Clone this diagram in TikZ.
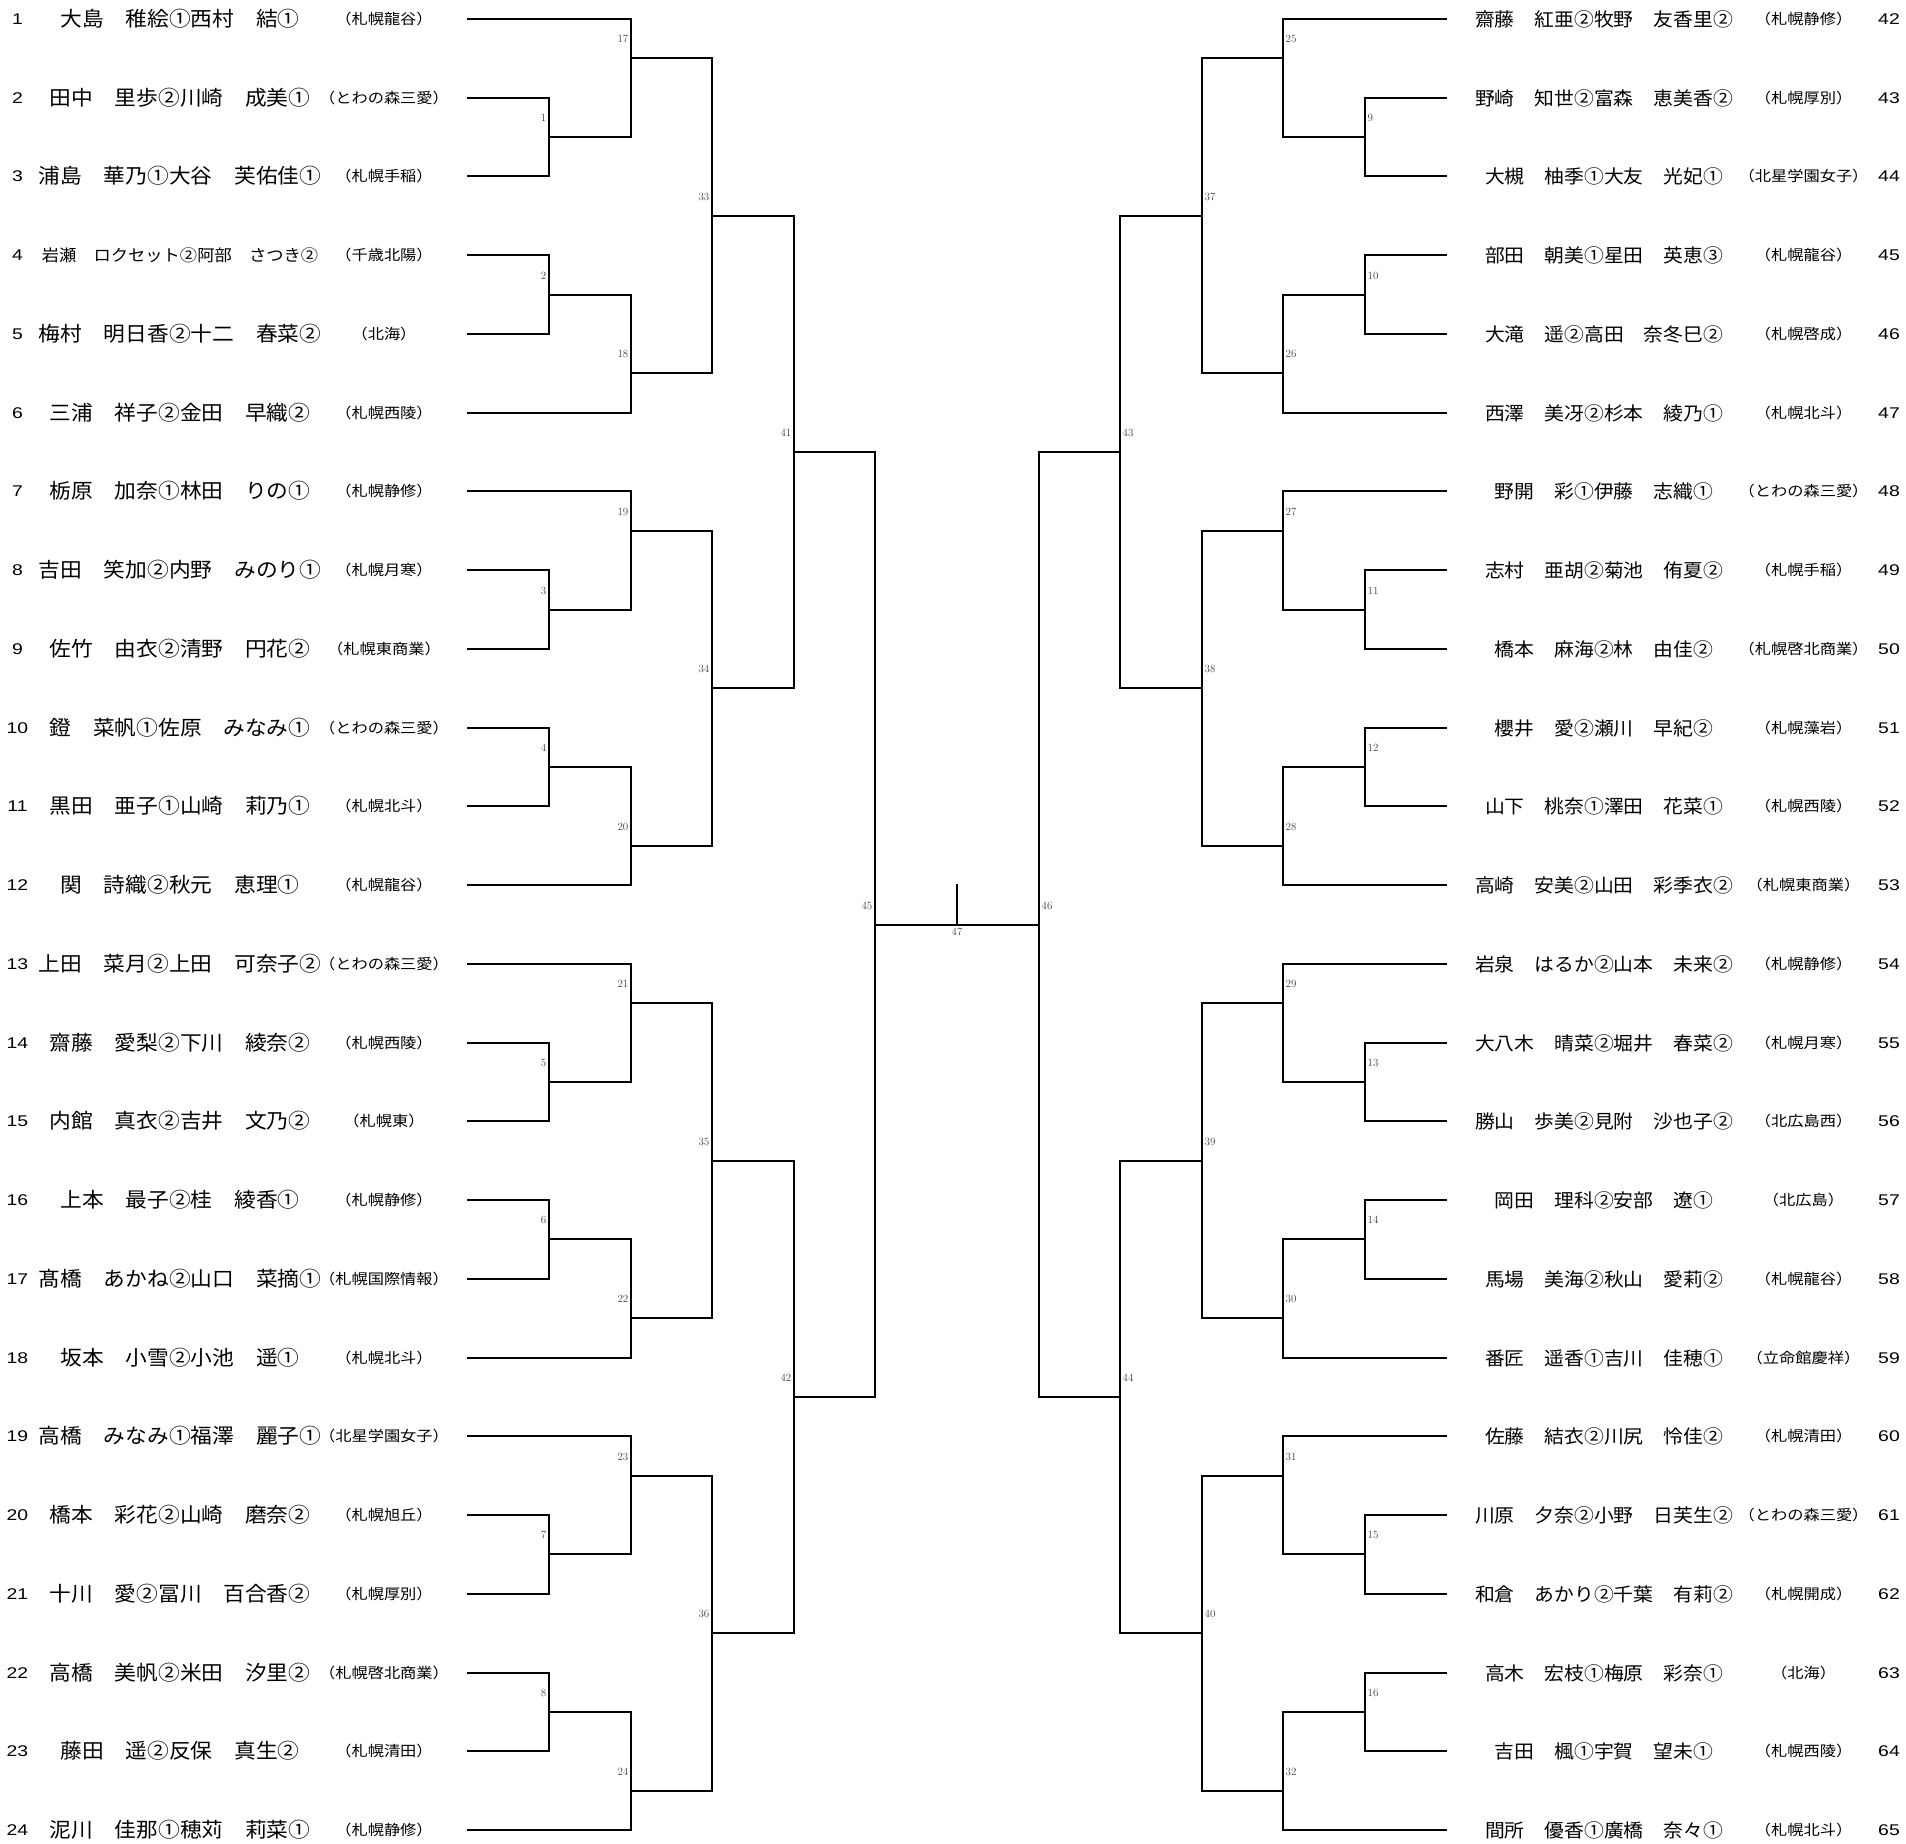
\documentclass[tikz,border=0pt]{standalone}
\usepackage{fontspec}
\usepackage{graphicx}
\newfontfamily\jpname[FakeStretch=1.06]{Noto Sans CJK JP}
\newfontfamily\jpschool[FakeStretch=1.12]{Noto Sans CJK JP}
\newfontfamily\numfont[FakeStretch=1.25]{Liberation Sans}
\newcommand\Yr[1]{round(19+(#1-1)*78.74)}
\newcommand\LM[7]{%
  \coordinate (M#1-t) at (#2,{\Yr{#3}});
  \coordinate (M#1-b) at (#2,{\Yr{#4}});
  \coordinate (M#1-o) at (#2,{\Yr{#5}});
  \draw[br] (#6) -- (M#1-t) -- (M#1-b) -- (#7);
  \node[mlab,anchor=east,xshift=-2.5pt,yshift=19.5pt] (N#1) at (M#1-o) {#1};
}
\newcommand\RM[7]{%
  \coordinate (M#1-t) at (#2,{\Yr{#3}});
  \coordinate (M#1-b) at (#2,{\Yr{#4}});
  \coordinate (M#1-o) at (#2,{\Yr{#5}});
  \draw[br] (#6) -- (M#1-t) -- (M#1-b) -- (#7);
  \node[mlab,anchor=west,xshift=2.5pt,yshift=19.5pt] (N#1) at (M#1-o) {#1};
}
\begin{document}
\begin{tikzpicture}[x=1pt,y=-1pt,
  br/.style={line width=2pt,line join=miter},
  mlab/.style={font=\fontsize{11}{11}\selectfont, text=black!75, inner sep=0pt},
  lnum/.style={font=\numfont\fontsize{15.5}{16}\selectfont, inner sep=0pt, anchor=center},
  school/.style={font=\jpschool\fontsize{14.5}{15}\selectfont, inner sep=0pt},
]
\useasboundingbox[fill=white] (0,0) rectangle (1906,1844);

% ---------------- left entries ----------------
\foreach \r/\fs/\nm/\sc in {
 1/20.5/{大島　稚絵①西村　結①}/{（札幌龍谷）},
 2/20.5/{田中　里歩②川崎　成美①}/{（とわの森三愛）},
 3/20.5/{浦島　華乃①大谷　芙佑佳①}/{（札幌手稲）},
 4/16.3/{岩瀬　ロクセット②阿部　さつき②}/{（千歳北陽）},
 5/20.5/{梅村　明日香②十二　春菜②}/{（北海）},
 6/20.5/{三浦　祥子②金田　早織②}/{（札幌西陵）},
 7/20.5/{栃原　加奈①林田　りの①}/{（札幌静修）},
 8/20.5/{吉田　笑加②内野　みのり①}/{（札幌月寒）},
 9/20.5/{佐竹　由衣②清野　円花②}/{（札幌東商業）},
 10/20.5/{鐙　菜帆①佐原　みなみ①}/{（とわの森三愛）},
 11/20.5/{黒田　亜子①山崎　莉乃①}/{（札幌北斗）},
 12/20.5/{関　詩織②秋元　恵理①}/{（札幌龍谷）},
 13/20.5/{上田　菜月②上田　可奈子②}/{（とわの森三愛）},
 14/20.5/{齋藤　愛梨②下川　綾奈②}/{（札幌西陵）},
 15/20.5/{内館　真衣②吉井　文乃②}/{（札幌東）},
 16/20.5/{上本　最子②桂　綾香①}/{（札幌静修）},
 17/20.5/{髙橋　あかね②山口　菜摘①}/{（札幌国際情報）},
 18/20.5/{坂本　小雪②小池　遥①}/{（札幌北斗）},
 19/20.5/{高橋　みなみ①福澤　麗子①}/{（北星学園女子）},
 20/20.5/{橋本　彩花②山崎　磨奈②}/{（札幌旭丘）},
 21/20.5/{十川　愛②冨川　百合香②}/{（札幌厚別）},
 22/20.5/{高橋　美帆②米田　汐里②}/{（札幌啓北商業）},
 23/20.5/{藤田　遥②反保　真生②}/{（札幌清田）},
 24/20.5/{泥川　佳那①穂苅　莉菜①}/{（札幌静修）}}{
  \coordinate (EL\r) at (467,{\Yr{\r}});
  \node[lnum] (NL\r) at (17.5,{\Yr{\r}}) {\r};
  \node[font=\jpname\fontsize{\fs}{\fs}\selectfont, inner sep=0pt] (NML\r) at (180,{\Yr{\r}}) {\nm};
  \node[school] (SCL\r) at (384,{\Yr{\r}}) {\sc};
}

% ---------------- right entries ----------------
\foreach \r/\n/\nm/\sc in {
 1/42/{齋藤　紅亜②牧野　友香里②}/{（札幌静修）},
 2/43/{野崎　知世②富森　恵美香②}/{（札幌厚別）},
 3/44/{大槻　柚季①大友　光妃①}/{（北星学園女子）},
 4/45/{部田　朝美①星田　英恵③}/{（札幌龍谷）},
 5/46/{大滝　遥②高田　奈冬巳②}/{（札幌啓成）},
 6/47/{西澤　美冴②杉本　綾乃①}/{（札幌北斗）},
 7/48/{野開　彩①伊藤　志織①}/{（とわの森三愛）},
 8/49/{志村　亜胡②菊池　侑夏②}/{（札幌手稲）},
 9/50/{橋本　麻海②林　由佳②}/{（札幌啓北商業）},
 10/51/{櫻井　愛②瀬川　早紀②}/{（札幌藻岩）},
 11/52/{山下　桃奈①澤田　花菜①}/{（札幌西陵）},
 12/53/{高崎　安美②山田　彩季衣②}/{（札幌東商業）},
 13/54/{岩泉　はるか②山本　未来②}/{（札幌静修）},
 14/55/{大八木　晴菜②堀井　春菜②}/{（札幌月寒）},
 15/56/{勝山　歩美②見附　沙也子②}/{（北広島西）},
 16/57/{岡田　理科②安部　遼①}/{（北広島）},
 17/58/{馬場　美海②秋山　愛莉②}/{（札幌龍谷）},
 18/59/{番匠　遥香①吉川　佳穂①}/{（立命館慶祥）},
 19/60/{佐藤　結衣②川尻　怜佳②}/{（札幌清田）},
 20/61/{川原　夕奈②小野　日芙生②}/{（とわの森三愛）},
 21/62/{和倉　あかり②千葉　有莉②}/{（札幌開成）},
 22/63/{高木　宏枝①梅原　彩奈①}/{（北海）},
 23/64/{吉田　楓①宇賀　望未①}/{（札幌西陵）},
 24/65/{間所　優香①廣橋　奈々①}/{（札幌北斗）}}{
  \coordinate (ER\r) at (1447,{\Yr{\r}});
  \node[lnum] (NR\r) at (1889,{\Yr{\r}}) {\n};
  \node[font=\jpname\fontsize{18.7}{19}\selectfont, inner sep=0pt] (NMR\r) at (1604,{\Yr{\r}}) {\nm};
  \node[school] (SCR\r) at (1803.5,{\Yr{\r}}) {\sc};
}

% ---------------- left bracket ----------------
\foreach \g in {0,1,2,3}{
  \pgfmathtruncatemacro\ra{6*\g+1}
  \pgfmathtruncatemacro\rb{6*\g+2}
  \pgfmathtruncatemacro\rc{6*\g+3}
  \pgfmathtruncatemacro\rd{6*\g+4}
  \pgfmathtruncatemacro\re{6*\g+5}
  \pgfmathtruncatemacro\rf{6*\g+6}
  \pgfmathtruncatemacro\ma{2*\g+1}
  \pgfmathtruncatemacro\mb{2*\g+2}
  \pgfmathtruncatemacro\mc{17+2*\g}
  \pgfmathtruncatemacro\md{18+2*\g}
  \pgfmathtruncatemacro\me{33+\g}
  \LM{\ma}{549}{\rb}{\rc}{\rb+0.5}{EL\rb}{EL\rc}
  \LM{\mb}{549}{\rd}{\re}{\rd+0.5}{EL\rd}{EL\re}
  \LM{\mc}{631}{\ra}{\rb+0.5}{\ra+0.5}{EL\ra}{M\ma-o}
  \LM{\md}{631}{\rd+0.5}{\rf}{\re+0.5}{M\mb-o}{EL\rf}
  \LM{\me}{712}{\ra+0.5}{\re+0.5}{\rc+0.5}{M\mc-o}{M\md-o}
}
\LM{41}{794}{3.5}{9.5}{6.5}{M33-o}{M34-o}
\LM{42}{794}{15.5}{21.5}{18.5}{M35-o}{M36-o}
\LM{45}{875}{6.5}{18.5}{12.5}{M41-o}{M42-o}

% ---------------- right bracket ----------------
\foreach \g in {0,1,2,3}{
  \pgfmathtruncatemacro\ra{6*\g+1}
  \pgfmathtruncatemacro\rb{6*\g+2}
  \pgfmathtruncatemacro\rc{6*\g+3}
  \pgfmathtruncatemacro\rd{6*\g+4}
  \pgfmathtruncatemacro\re{6*\g+5}
  \pgfmathtruncatemacro\rf{6*\g+6}
  \pgfmathtruncatemacro\ma{9+2*\g}
  \pgfmathtruncatemacro\mb{10+2*\g}
  \pgfmathtruncatemacro\mc{25+2*\g}
  \pgfmathtruncatemacro\md{26+2*\g}
  \pgfmathtruncatemacro\me{37+\g}
  \RM{\ma}{1365}{\rb}{\rc}{\rb+0.5}{ER\rb}{ER\rc}
  \RM{\mb}{1365}{\rd}{\re}{\rd+0.5}{ER\rd}{ER\re}
  \RM{\mc}{1283}{\ra}{\rb+0.5}{\ra+0.5}{ER\ra}{M\ma-o}
  \RM{\md}{1283}{\rd+0.5}{\rf}{\re+0.5}{M\mb-o}{ER\rf}
  \RM{\me}{1202}{\ra+0.5}{\re+0.5}{\rc+0.5}{M\mc-o}{M\md-o}
}
\RM{43}{1120}{3.5}{9.5}{6.5}{M37-o}{M38-o}
\RM{44}{1120}{15.5}{21.5}{18.5}{M39-o}{M40-o}
\RM{46}{1039}{6.5}{18.5}{12.5}{M43-o}{M44-o}

% ---------------- final ----------------
\coordinate (F-top) at (957,884);
\coordinate (F-mid) at (957,{\Yr{12.5}});
\draw[br] (M45-o) -- (M46-o);
\draw[br] (F-top) -- (F-mid);
\node[mlab,anchor=north,yshift=-3pt] (N47) at (F-mid) {47};
\end{tikzpicture}
\end{document}
